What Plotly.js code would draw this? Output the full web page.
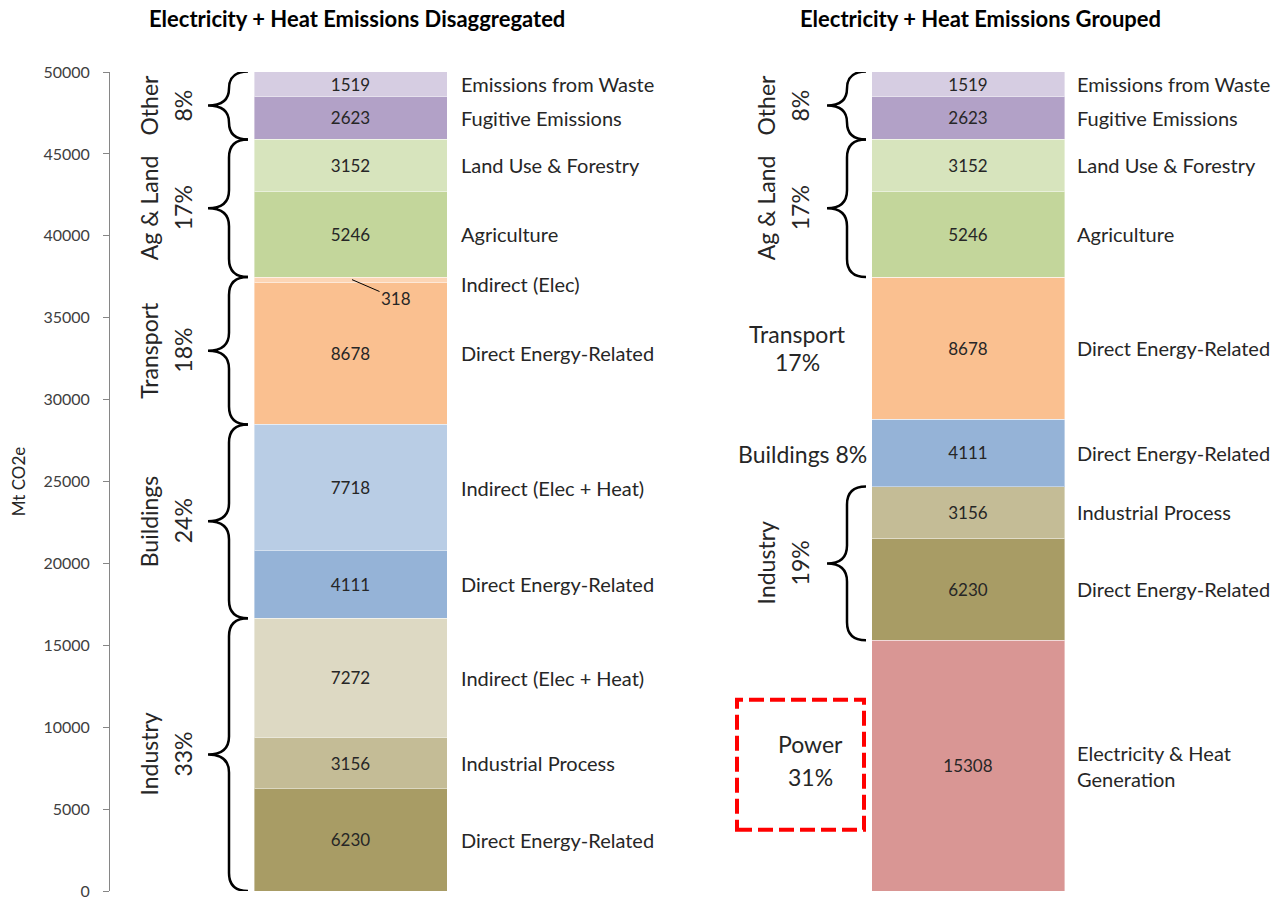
<!DOCTYPE html>
<html><head><meta charset="utf-8">
<script src="https://cdn.plot.ly/plotly-3.0.1.min.js"></script>
<style>html,body{margin:0;padding:0;background:#fff}#chart{width:1278px;height:900px}</style>
</head><body><div id="chart"></div>
<script>
// ---------- data ----------
const chartTitles = ['Electricity + Heat Emissions Disaggregated', 'Electricity + Heat Emissions Grouped'];
const segmentNames = ['Electricity & Heat Generation','Industry Direct Energy-Related','Industrial Process','Industry Indirect (Elec + Heat)','Buildings Direct Energy-Related','Buildings Indirect (Elec + Heat)','Transport Direct Energy-Related','Transport Indirect (Elec)','Agriculture','Land Use & Forestry','Fugitive Emissions','Emissions from Waste'];
const disaggregated = [0, 6230, 3156, 7272, 4111, 7718, 8678, 318, 5246, 3152, 2623, 1519];
const grouped       = [15308, 6230, 3156, 0, 4111, 0, 8678, 0, 5246, 3152, 2623, 1519];
const labelsLeft  = ['', 'Direct Energy-Related', 'Industrial Process', 'Indirect (Elec + Heat)', 'Direct Energy-Related', 'Indirect (Elec + Heat)', 'Direct Energy-Related', 'Indirect (Elec)', 'Agriculture', 'Land Use & Forestry', 'Fugitive Emissions', 'Emissions from Waste'];
const labelsRight = ['Electricity & Heat<br>Generation', 'Direct Energy-Related', 'Industrial Process', '', 'Direct Energy-Related', '', 'Direct Energy-Related', '', 'Agriculture', 'Land Use & Forestry', 'Fugitive Emissions', 'Emissions from Waste'];
const colors = ['#d99694', '#a89c65', '#c4bc96', '#ddd9c3', '#95b3d7', '#b9cde5', '#fac090', '#fcd5b5', '#c3d69b', '#d7e4bd', '#b2a1c7', '#d6cde2'];
// groups: [name, first segment, last segment]
const groupsLeft  = [['Industry', 1, 3], ['Buildings', 4, 5], ['Transport', 6, 7], ['Ag & Land', 8, 9], ['Other', 10, 11]];
const groupsRightBraced = [['Industry', 1, 2], ['Ag & Land', 8, 9], ['Other', 10, 11]];
const groupsRightPlain  = [['Transport', 6, 6, true], ['Buildings', 4, 4, false]];
const powerGroup = ['Power', 0, 0];
const yTickVals = [0, 5000, 10000, 15000, 20000, 25000, 30000, 35000, 40000, 45000, 50000];
const yTitle = 'Mt CO2e';

// ---------- layout helpers (pixel geometry) ----------
const L = 110, T = 72, H = 819, W = 1168, YMAX = 50000;
const PX = p => p - L;                 // pixel x -> x data
const DY = p => p * YMAX / H;          // pixel height -> y data
const FONT = 'Lato, "Open Sans", sans-serif';
const TXT = '#262626';

const total = disaggregated.reduce((a, b) => a + b, 0);
const pct = v => Math.round(v / total * 100) + '%';
function cum(arr) { const b = []; let s = 0; arr.forEach(v => { b.push(s); s += v; }); return b; }
const botL = cum(disaggregated), botR = cum(grouped);
const sumRange = (arr, a, b) => arr.slice(a, b + 1).reduce((x, y) => x + y, 0);

const barX = [PX(350.5), PX(968)];
const barW = 193;

const traces = segmentNames.map((name, i) => ({
  type: 'bar', name: name,
  x: barX, y: [disaggregated[i], grouped[i]], width: [barW, barW],
  marker: { color: colors[i], line: { color: 'rgba(255,255,255,0.4)', width: 1 } },
  text: [disaggregated[i], grouped[i]].map(v => (v > 1000 ? String(v) : '')),
  textposition: 'inside', insidetextanchor: 'middle', textangle: 0, constraintext: 'none',
  textfont: { family: FONT, size: 17, color: TXT },
  hoverinfo: 'skip', showlegend: false
}));

const annotations = [];
const shapes = [];

// titles
[[357, chartTitles[0]], [980, chartTitles[1]]].forEach(([px, t]) => annotations.push({
  xref: 'x', yref: 'paper', x: PX(px), y: (T + H - 18) / H, text: '<b>' + t + '</b>',
  showarrow: false, xanchor: 'center', yanchor: 'middle', font: { family: FONT, size: 22, color: '#000' }
}));

// segment category labels
segmentNames.forEach((n, i) => {
  if (labelsLeft[i] && disaggregated[i] > 0) {
    annotations.push({ x: PX(459), y: botL[i] + disaggregated[i] / 2, text: labelsLeft[i], xanchor: 'left', yanchor: 'middle',
      yshift: i === 7 ? -4 : 0, showarrow: false, font: { family: FONT, size: 20, color: TXT } });
  }
  if (labelsRight[i] && grouped[i] > 0) {
    annotations.push({ x: PX(1075), y: botR[i] + grouped[i] / 2, text: labelsRight[i], xanchor: 'left', yanchor: 'middle',
      align: 'left', showarrow: false, font: { family: FONT, size: 20, color: TXT } });
  }
});
// small segment value with leader line
annotations.push({ x: PX(352), y: botL[7] + disaggregated[7] / 2, text: String(disaggregated[7]), showarrow: true,
  arrowhead: 0, arrowwidth: 1, arrowcolor: '#000', ax: 44, ay: 19, standoff: 0,
  font: { family: FONT, size: 17, color: TXT } });

// brace path
function brace(xe, xs, xt, y0, y1) {
  const h = y1 - y0, ym = (y0 + y1) / 2;
  const r = Math.min(DY(18), h / 4);
  return `M${xe},${y1} Q${xs},${y1} ${xs},${y1 - r} L${xs},${ym + r} Q${xs},${ym} ${xt},${ym} ` +
         `Q${xs},${ym} ${xs},${ym - r} L${xs},${y0 + r} Q${xs},${y0} ${xe},${y0}`;
}
function addBrace(side, g, bots, vals) {
  const y0 = bots[g[1]], y1 = bots[g[2]] + vals[g[2]];
  const geo = side === 'L' ? [248, 229, 208] : [866, 847, 827];
  shapes.push({ type: 'path', xref: 'x', yref: 'y', path: brace(PX(geo[0]), PX(geo[1]), PX(geo[2]), y0, y1),
    line: { color: '#000', width: 2.5 } });
  const ym = (y0 + y1) / 2;
  const xs = side === 'L' ? [149, 183] : [766, 800];
  const p = pct(sumRange(vals, g[1], g[2]));
  annotations.push({ x: PX(xs[0]), y: ym, text: g[0], textangle: -90, showarrow: false, font: { family: FONT, size: 23, color: TXT } });
  annotations.push({ x: PX(xs[1]), y: ym, text: p, textangle: -90, showarrow: false, font: { family: FONT, size: 23, color: TXT } });
}
groupsLeft.forEach(g => addBrace('L', g, botL, disaggregated));
groupsRightBraced.forEach(g => addBrace('R', g, botR, grouped));

// plain horizontal labels on grouped side
groupsRightPlain.forEach(g => {
  const ym = botR[g[1]] + sumRange(grouped, g[1], g[2]) / 2;
  const p = pct(sumRange(grouped, g[1], g[2]));
  if (g[3]) {
    annotations.push({ x: PX(797), y: ym + DY(14), text: g[0], showarrow: false, font: { family: FONT, size: 23, color: TXT } });
    annotations.push({ x: PX(797), y: ym - DY(14), text: p, showarrow: false, font: { family: FONT, size: 23, color: TXT } });
  } else {
    annotations.push({ x: PX(802), y: ym - DY(1), text: g[0] + ' ' + p, showarrow: false, font: { family: FONT, size: 23, color: TXT } });
  }
});

// power box
{
  const ym = botR[powerGroup[1]] + grouped[powerGroup[1]] / 2;
  shapes.push({ type: 'rect', xref: 'x', yref: 'y', x0: PX(737), x1: PX(864), y0: ym - DY(64), y1: ym + DY(66),
    line: { color: '#ff0000', width: 4, dash: '15px,6px' } });
  annotations.push({ x: PX(810), y: ym + DY(22), text: powerGroup[0], showarrow: false, font: { family: FONT, size: 23, color: TXT } });
  annotations.push({ x: PX(810), y: ym - DY(11), text: pct(grouped[powerGroup[1]]), showarrow: false, font: { family: FONT, size: 23, color: TXT } });
}

const layout = {
  width: 1278, height: 900,
  margin: { l: L, r: 1278 - L - W, t: T, b: 900 - T - H, pad: 0 },
  paper_bgcolor: '#fff', plot_bgcolor: '#fff',
  barmode: 'stack',
  xaxis: { range: [0, W], visible: false, fixedrange: true },
  yaxis: { range: [0, YMAX], tickvals: yTickVals, ticktext: yTickVals.map(String), showgrid: false, zeroline: false,
    showline: true, linecolor: '#868686', linewidth: 1, ticks: 'outside', ticklen: 6, tickcolor: '#868686',
    ticklabelstandoff: 10, ticklabeloverflow: 'allow', tickfont: { family: FONT, size: 16, color: '#404040' }, fixedrange: true,
    title: { text: yTitle, standoff: 13, font: { family: FONT, size: 17, color: TXT } } },
  annotations: annotations, shapes: shapes,
  showlegend: false
};
Plotly.newPlot('chart', traces, layout, { staticPlot: true, displayModeBar: false });
</script>
</body></html>
